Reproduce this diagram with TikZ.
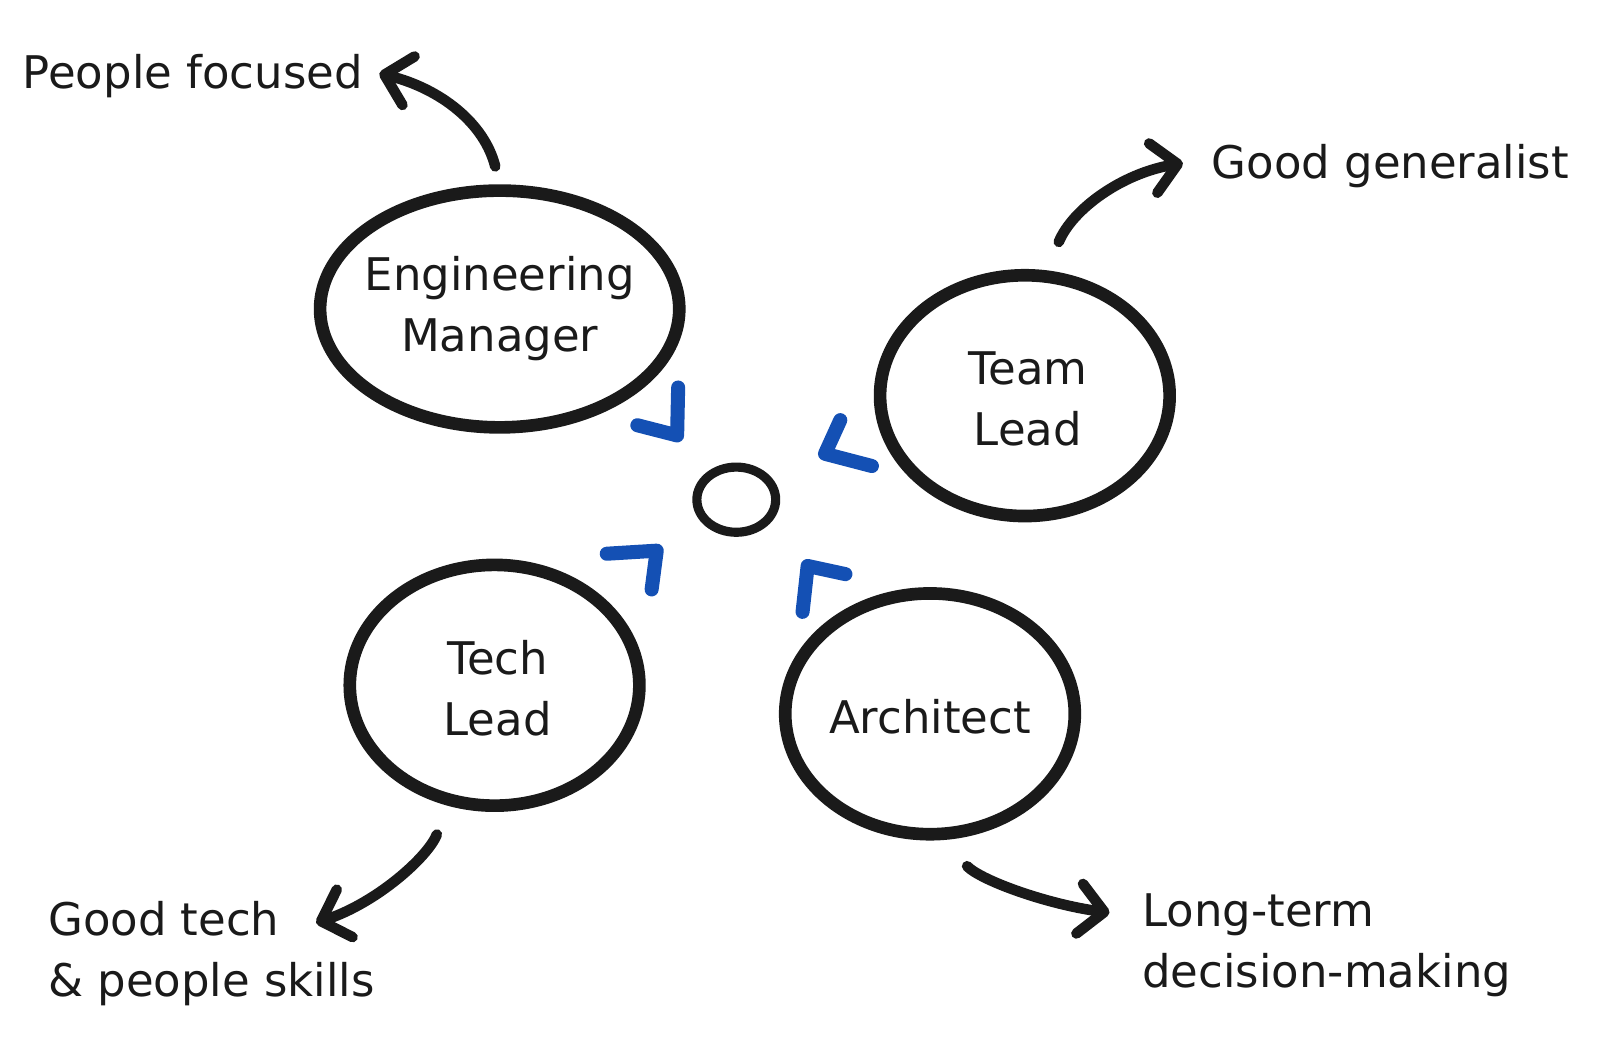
\documentclass[tikz,border=0pt]{standalone}
\usepackage{fontspec}
\setmainfont{DejaVu Sans}
\usetikzlibrary{shapes.geometric,arrows.meta,calc,positioning}
\definecolor{rlblack}{RGB}{26,26,26}
\definecolor{rlblue}{RGB}{20,80,180}
\tikzstyle{rolenode} = [ellipse, draw=rlblack, line width=9pt, inner sep=0pt]
\tikzstyle{roletext} = [align=center, font=\fontsize{32}{43.5}\selectfont, text=rlblack]
\tikzstyle{notetext} = [anchor=west, align=left, inner sep=0pt, font=\fontsize{32}{43.5}\selectfont, text=rlblack]
\tikzstyle{curvearrow} = [line width=7.5pt, color=rlblack, line cap=round, -{Straight Barb[length=0.62cm,width=1.25cm,line join=round,line cap=round]}]
\tikzstyle{bracket} = [line width=10pt, color=rlblue, line cap=round, line join=round]
\begin{document}
\begin{tikzpicture}[x=0.0255cm, y=-0.0255cm]
\useasboundingbox (0,0) rectangle (1569,1036.5);

% the four roles and the hub
\node[rolenode, minimum width=8.98cm, minimum height=5.92cm] (em) at (490,303) {};
\node[rolenode, minimum width=7.24cm, minimum height=6.02cm] (tl) at (1005,388) {};
\node[rolenode, minimum width=7.24cm, minimum height=6.02cm] (techl) at (485,672) {};
\node[rolenode, minimum width=7.24cm, minimum height=6.02cm] (arch) at (912,700) {};
\node[rolenode, minimum width=1.97cm, minimum height=1.63cm, line width=6.5pt] (hub) at (722,490) {};

\node[roletext] at (em) {Engineering\\Manager};
\node[roletext] at ($(tl)+(3,3)$) {Team\\Lead};
\node[roletext] at ($(techl)+(3,3)$) {Tech\\Lead};
\node[roletext] at ($(arch)+(0,3)$) {Architect};

% notes
\node[notetext] (pf) at (22,75) {People focused};
\node[notetext] (gg) at (1188,163) {Good generalist};
\node[notetext] (gt) at (47,935) {Good tech\\\& people skills};
\node[notetext] (ltd) at (1120,927) {Long-term\\decision-making};

\coordinate (pfTip) at (372,72);
\coordinate (ggTip) at (1160,160);
\coordinate (gtTip) at (310,905);
\coordinate (ltdTip) at (1088,895);

\draw[curvearrow, shorten <=0.46cm] (em.north) .. controls +(-15,-60) and +(60,15) .. (pfTip);
\draw[curvearrow, shorten <=0.77cm] (tl.80) .. controls +(25,-60) and +(-60,10) .. (ggTip);
\draw[curvearrow, shorten <=0.77cm] (techl.-111) .. controls +(-20,50) and +(60,-20) .. (gtTip);
\draw[curvearrow, shorten <=0.92cm] (arch.-85) .. controls +(40,40) and +(-60,-8) .. (ltdTip);

% blue corners round the hub
\draw[bracket] ($(hub)+(-57,-110)$) -- ($(hub)+(-58,-63)$) -- ($(hub)+(-97,-73)$);
\draw[bracket] ($(hub)+(102,-78)$) -- ($(hub)+(87,-45)$) -- ($(hub)+(133,-33)$);
\draw[bracket] ($(hub)+(-127,53)$) -- ($(hub)+(-78,50)$) -- ($(hub)+(-83,88)$);
\draw[bracket] ($(hub)+(65,110)$) -- ($(hub)+(70,65)$) -- ($(hub)+(107,73)$);
\end{tikzpicture}
\end{document}
